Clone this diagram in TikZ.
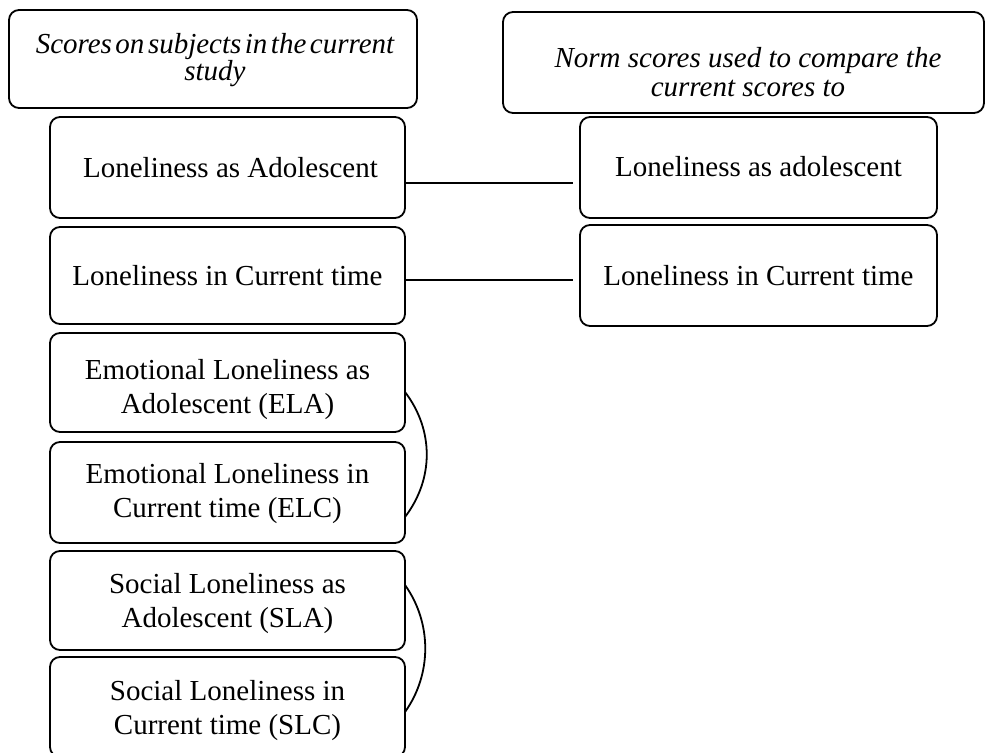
\documentclass[tikz,border=0pt]{standalone}
\usepackage{fontspec}
\setmainfont{Liberation Serif}
\newcommand{\tightspaces}{\spaceskip=3.5pt plus 1pt minus 1pt\relax}
\begin{document}
\begin{tikzpicture}[x=1pt,y=-1pt,
  box/.style={draw, line width=1.8pt, rounded corners=10pt, inner sep=0pt, outer sep=0pt, fill=white},
  leftbox/.style={box, minimum width=355pt, minimum height=99pt},
  rightbox/.style={box, minimum width=357pt, minimum height=100pt},
  txt/.style={inner sep=0pt, align=center, font=\fontsize{29}{34}\selectfont},
  hdrtxt/.style={inner sep=0pt, align=center},
  conn/.style={line width=1.8pt}]
\useasboundingbox (0,0) rectangle (987,752);
% headers
\node[box, minimum width=408pt, minimum height=98pt] (H1) at (213,59) {};
\node[box, minimum width=481pt, minimum height=101pt] (H2) at (743.5,62.5) {};
\node[hdrtxt, font=\fontsize{29}{27}\selectfont\itshape\tightspaces] (H1t) at (215,60) {Scores on subjects in the current\\study};
\node[hdrtxt, font=\fontsize{29}{29}\selectfont\itshape] (H2t) at (748,72.5) {Norm scores used to compare the\\current scores to};
% left column
\node[leftbox, minimum height=101pt] (L1) at (227.5,167.5) {};
\node[leftbox, minimum height=97pt] (L2) at (227.5,275.5) {};
\node[leftbox] (L3) at (227.5,382.5) {};
\node[leftbox, minimum height=101pt] (L4) at (227.5,492.5) {};
\node[leftbox] (L5) at (227.5,600.5) {};
\node[leftbox, minimum height=100pt] (L6) at (227.5,707) {};
% right column
\node[rightbox, minimum height=101pt] (R1) at (758.5,167.5) {};
\node[rightbox, minimum height=101pt] (R2) at (758.5,275.5) {};
% texts
\node[txt] (L1t) at (230.5,168) {Loneliness as Adolescent};
\node[txt] (L2t) at (227.5,275.5) {Loneliness in Current time};
\node[txt] (L3t) at (227.5,390) {Emotional Loneliness as\\Adolescent (ELA)};
\node[txt] (L4t) at (227.5,494) {Emotional Loneliness in\\Current time (ELC)};
\node[txt] (L5t) at (227.5,604) {Social Loneliness as\\Adolescent (SLA)};
\node[txt] (L6t) at (227.5,711) {Social Loneliness in\\Current time (SLC)};
\node[txt] (R1t) at (758.5,167) {Loneliness as adolescent};
\node[txt] (R2t) at (758.5,276) {Loneliness in Current time};
% connectors
\draw[conn] ([yshift=-15.5pt]L1.east) -- ([yshift=-15.5pt,xshift=-7pt]R1.west);
\draw[conn] ([yshift=-4.5pt]L2.east) -- ([yshift=-4.5pt,xshift=-7pt]R2.west);
\coordinate (A1s) at ([yshift=-9.5pt]L3.east);
\coordinate (A1e) at ([yshift=-24.5pt]L4.east);
\coordinate (A2s) at ([yshift=15.5pt]L5.east);
\coordinate (A2e) at ([yshift=-5pt]L6.east);
\draw[conn] (A1s) .. controls ([xshift=29pt,yshift=-38pt]A1s) and ([xshift=29pt,yshift=38pt]A1e) .. (A1e);
\draw[conn] (A2s) .. controls ([xshift=27pt,yshift=-38pt]A2s) and ([xshift=27pt,yshift=38pt]A2e) .. (A2e);
\end{tikzpicture}
\end{document}
